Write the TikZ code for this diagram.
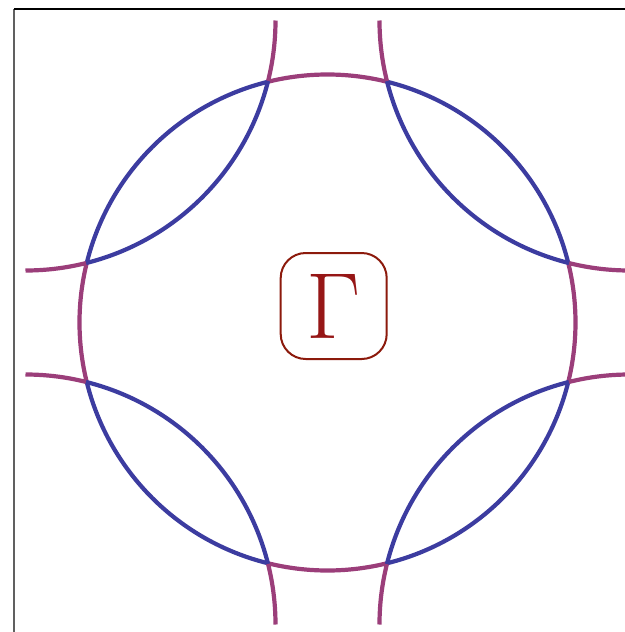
\documentclass[tikz,border=0pt]{standalone}
\definecolor{bandblue}{RGB}{60,60,160}
\definecolor{bandpurple}{RGB}{155,62,122}
\definecolor{gammared}{RGB}{150,22,22}
\definecolor{boxred}{RGB}{140,26,12}
\begin{document}
\begin{tikzpicture}[x=0.5pt, y=0.5pt,
    band/.style={line width=2.1pt},
    gammabox/.style={draw=boxred, line width=1pt, rounded corners=12.5pt,
        minimum width=53pt, minimum height=53pt, inner sep=0pt,
        text=gammared, font=\fontsize{47}{50}\selectfont}]
    \useasboundingbox (-327.5,-309.5) rectangle (297.5,322.5);
    \coordinate (G) at (0,0);

    % frame, only left and top edges are in view
    \coordinate (TL) at (-313,313);
    \coordinate (BL) at (-313,-309.5);
    \coordinate (TR) at (297.5,313);
    \draw[gray!75!black, line width=1pt] (TL) -- (BL);
    \draw[black, line width=1pt] (TL) -- (TR);

    % central pocket: purple near the axes, blue along the diagonals
    \foreach \a in {0,90,180,270} {
        \draw[band, bandpurple] (G) ++(\a-14:248) arc (\a-14:\a+14:248);
        \draw[band, bandblue] (G) ++(\a+14:248) arc (\a+14:\a+76:248);
    }

    % corner pockets, centred at the zone corners (302,302)
    \foreach \a in {0,90,180,270} {
        \coordinate (K) at (\a+135:427.09);
        \draw[band, bandpurple] (K) ++(\a:250) arc (\a:\a-14:250);
        \draw[band, bandblue] (K) ++(\a-14:250) arc (\a-14:\a-76:250);
        \draw[band, bandpurple] (K) ++(\a-76:250) arc (\a-76:\a-90:250);
    }

    % label at the zone centre
    \node[gammabox] (gamma) at (6.2,16.5) {Γ};

\end{tikzpicture}
\end{document}
